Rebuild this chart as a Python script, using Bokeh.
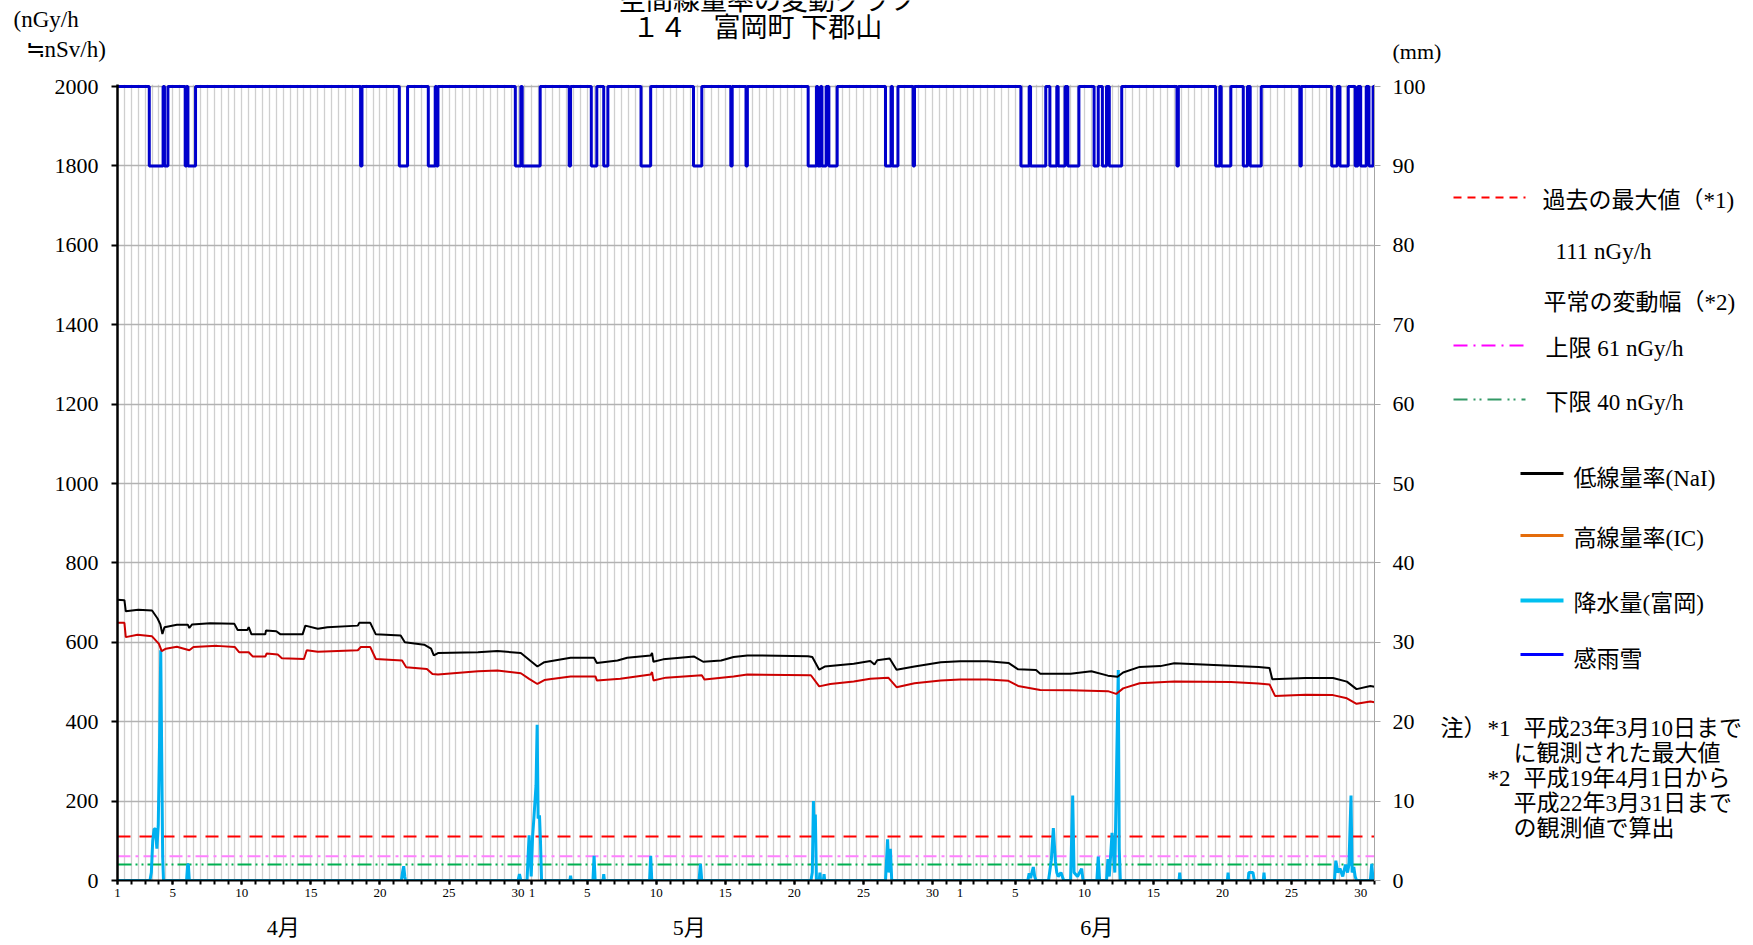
from bokeh.plotting import figure
from bokeh.layouts import column, row
from bokeh.models import Range1d, LinearAxis, FixedTicker, Span
from bokeh.core.properties import value
from bokeh.embed import file_html
from bokeh.resources import INLINE

# ---------------- data ----------------
# x = days since 1 April 00:00
nai_day = [0.0, 0.5, 0.6, 1.5, 2.5, 2.9, 3.1, 3.25, 3.4, 4.3, 5.1, 5.2, 5.4, 6.7, 8.45, 8.7, 9.4, 9.5, 9.7,
           10.7, 10.75, 11.5, 11.8, 13.4, 13.6, 14.5, 15.2, 17.4, 17.5, 18.3, 18.7, 20.5, 20.8, 22.2, 22.7,
           22.9, 23.2, 26.1, 27.5, 29.2, 29.8, 30.4, 30.9, 32.8, 34.5, 34.7, 36.2, 36.9, 38.6, 38.7, 38.8,
           39.5, 41.75, 42.4, 43.7, 44.6, 45.6, 50.0, 50.3, 50.8, 51.2, 53.3, 54.5, 54.8, 55.0, 55.9, 56.4,
           57.7, 59.6, 61.0, 63.0, 64.5, 65.2, 66.5, 66.8, 69.0, 70.5, 71.7, 72.4, 72.8, 74.0, 75.5, 76.5,
           80.6, 82.6, 83.4, 83.6, 86.0, 88.0, 89.0, 89.7, 90.7, 91.0]
nai_val = [707, 706, 678, 682, 680, 660, 645, 621, 638, 644, 644, 636, 645, 648, 647, 631, 631, 638, 620,
           620, 630, 628, 620, 620, 642, 634, 638, 642, 649, 649, 620, 617, 600, 594, 584,
           567, 573, 575, 578, 573, 556, 539, 550, 561, 561, 548, 554, 561, 567, 573, 551,
           557, 564, 551, 554, 563, 567, 565, 563, 531, 539, 546, 553, 544, 555, 559, 531,
           539, 550, 552, 552, 548, 532, 530, 521, 521, 527, 516, 513, 524, 538, 540, 547,
           541, 538, 535, 507, 510, 510, 501, 482, 490, 488]

ic_day = [0.0, 0.5, 0.6, 1.45, 2.5, 3.0, 3.2, 3.5, 4.3, 5.2, 5.5, 7.2, 8.5, 8.8, 9.5, 9.8, 10.7, 10.8, 11.6,
          11.9, 13.5, 13.7, 14.5, 17.4, 17.6, 18.3, 18.7, 20.6, 20.9, 22.4, 22.8, 23.2, 26.1, 27.5, 29.2,
          29.8, 30.4, 30.9, 32.8, 34.6, 34.7, 36.4, 38.6, 38.7, 38.8, 39.7, 42.3, 42.5, 44.6, 45.6, 50.2,
          50.8, 51.6, 53.3, 54.5, 55.8, 56.4, 57.7, 59.6, 61.0, 63.0, 64.5, 65.2, 66.8, 69.0, 71.7, 72.3,
          72.8, 74.0, 76.5, 80.6, 82.6, 83.4, 83.8, 86.0, 88.0, 89.0, 89.7, 90.7, 91.0]
ic_val = [649, 649, 613, 619, 615, 596, 578, 584, 589, 580, 588, 591, 588, 575, 575, 564, 564, 572, 569,
          560, 558, 580, 576, 580, 588, 588, 558, 554, 537, 533, 520, 519, 527, 529, 522,
          508, 495, 505, 514, 514, 504, 508, 519, 525, 504, 511, 517, 506, 514, 519, 517,
          489, 495, 501, 508, 511, 487, 497, 504, 506, 506, 503, 490, 480, 479, 477, 470,
          484, 497, 501, 500, 496, 494, 465, 468, 467, 459, 445, 451, 449]

# precipitation (mm), (day, mm) pairs
rain_pts = [(0.0, 0),
            (2.35, 0), (2.45, 1), (2.55, 5), (2.65, 6.5), (2.75, 6.5), (2.85, 4), (2.95, 7), (3.05, 18),
            (3.13, 29), (3.2, 16), (3.27, 3), (3.33, 0),
            (5.0, 0), (5.08, 2), (5.13, 2), (5.2, 0),
            (20.55, 0), (20.65, 1.2), (20.72, 1.8), (20.8, 0.5), (20.85, 0),
            (29.0, 0), (29.1, 0.8), (29.2, 0),
            (29.65, 0), (29.75, 4), (29.8, 5.7), (29.88, 3), (29.95, 0.5), (30.05, 5.5), (30.15, 8),
            (30.3, 12), (30.38, 19.6), (30.45, 7.8), (30.55, 8.2), (30.62, 5), (30.7, 0),
            (32.75, 0), (32.8, 0.6), (32.85, 0),
            (34.42, 0), (34.5, 3.1), (34.58, 0),
            (35.15, 0), (35.2, 0.8), (35.25, 0),
            (38.52, 0), (38.6, 3.1), (38.68, 0),
            (42.1, 0), (42.2, 2.1), (42.3, 0),
            (50.2, 0), (50.3, 1), (50.38, 10), (50.45, 5), (50.52, 8.3), (50.6, 0),
            (50.8, 0), (50.85, 1), (50.9, 0),
            (51.1, 0), (51.15, 0.8), (51.2, 0),
            (55.6, 0), (55.75, 5.2), (55.85, 1), (55.95, 4), (56.05, 0),
            (65.9, 0), (66.0, 0.9), (66.1, 0.3), (66.3, 1.7), (66.4, 0.5), (66.5, 0),
            (67.4, 0), (67.6, 2.5), (67.75, 6.6), (67.9, 2.4), (68.0, 1), (68.1, 0.5), (68.3, 1), (68.5, 0),
            (69.0, 0), (69.15, 10.7), (69.25, 1), (69.5, 0.5), (69.8, 1.5), (69.9, 0),
            (70.9, 0), (71.0, 3), (71.1, 0),
            (71.6, 0), (71.7, 2.7), (71.8, 0.5), (72.0, 6), (72.2, 1), (72.45, 26.5), (72.52, 4), (72.6, 0),
            (76.85, 0), (76.9, 1), (76.95, 0),
            (80.35, 0), (80.4, 1), (80.45, 0),
            (81.85, 0), (81.9, 1), (82.2, 1), (82.3, 0),
            (82.95, 0), (83.0, 1), (83.05, 0),
            (88.1, 0), (88.2, 2.5), (88.35, 1), (88.5, 1.5), (88.7, 0.5), (88.9, 2), (89.05, 1),
            (89.15, 2), (89.3, 10.7), (89.38, 1), (89.5, 1.7), (89.6, 0.5), (89.7, 0),
            (90.7, 0), (90.8, 2.1), (90.9, 0), (91.0, 0)]
rain_day = [d for d, _ in rain_pts]
rain_mm = [m for _, m in rain_pts]

# rain / snow sensor: periods with detection (days since 1 April)
sensor_start = [2.3, 3.4, 4.9, 5.1, 17.6, 20.4, 22.5, 23.1, 28.8, 29.3, 32.7, 34.3, 35.2, 37.9, 41.7,
                44.4, 45.5, 50.0, 50.7, 51.0, 51.5, 55.6, 56.1, 57.6, 65.4, 66.1, 67.5, 68.1, 68.8,
                70.7, 71.3, 71.8, 76.7, 79.5, 79.9, 81.5, 82.0, 85.6, 87.9, 88.5, 89.6, 90.0, 90.6]
sensor_end = [3.3, 3.65, 5.0, 5.65, 17.7, 21.0, 23.0, 23.2, 29.2, 30.6, 32.8, 34.7, 35.5, 38.6, 42.3,
              44.5, 45.6, 50.6, 50.9, 51.3, 52.1, 56.0, 56.5, 57.7, 66.0, 67.2, 68.0, 68.6, 69.6,
              71.0, 71.6, 72.7, 76.8, 79.8, 80.6, 81.8, 82.8, 85.7, 88.3, 89.1, 89.8, 90.4, 90.9]
sensor_on, sensor_off = 90, 100

past_max = 111
normal_upper = 61
normal_lower = 40

months = ["4月", "5月", "6月"]
month_start = [0, 30, 61]
month_days = [30, 31, 30]
month_label_day = [12.0, 41.4, 70.9]
day_labels = [1, 5, 10, 15, 20, 25, 30]

# ---------------- layout constants (pixels) ----------------
TOTAL_W = 1750
HEAD_H = 68
FL, FW = 117, 1257
BT, FH, BB = 16, 796, 62
BR = 58
LEG_X0 = FL + FW + BR
MAIN_H = BT + FH + BB
Y_TOP = 2000 * FH / 794.0
FONT = "'Liberation Serif', 'Noto Sans CJK JP', serif"

# ---------------- main chart ----------------
p = figure(frame_width=FW, frame_height=FH, min_border_left=FL, min_border_top=BT,
           min_border_right=BR, min_border_bottom=BB,
           x_range=Range1d(0, 91), y_range=Range1d(0, Y_TOP),
           output_backend="svg", toolbar_location=None)
p.extra_y_ranges = {"mm": Range1d(0, Y_TOP / 20.0)}
p.outline_line_color = None

major = []
overrides = {}
for ms, nd in zip(month_start, month_days):
    for d in day_labels:
        if d <= nd:
            major.append(ms + d - 1)
            overrides[ms + d - 1] = str(d)
p.xaxis.ticker = FixedTicker(ticks=major, minor_ticks=list(range(0, 92)))
p.xaxis.major_label_overrides = overrides
p.xaxis.major_label_text_font = FONT
p.xaxis.major_label_text_font_size = "13px"
p.xaxis.major_label_text_color = "black"
p.xaxis.major_label_standoff = 4
p.xaxis.axis_line_color = "black"
p.xaxis.axis_line_width = 2
p.xaxis.major_tick_in = 0
p.xaxis.major_tick_out = 4
p.xaxis.minor_tick_in = 0
p.xaxis.minor_tick_out = 4
p.xaxis.major_tick_line_width = 2
p.xaxis.minor_tick_line_width = 2
p.xaxis.major_tick_line_color = "black"
p.xaxis.minor_tick_line_color = "black"

month_axis = LinearAxis(ticker=FixedTicker(ticks=month_label_day),
                        major_label_overrides={d: m for d, m in zip(month_label_day, months)})
month_axis.axis_line_color = None
month_axis.major_tick_line_color = None
month_axis.minor_tick_line_color = None
month_axis.major_tick_out = 0
month_axis.major_tick_in = 0
month_axis.major_label_standoff = 15
month_axis.major_label_text_font = FONT
month_axis.major_label_text_font_size = "22px"
month_axis.major_label_text_color = "black"
p.add_layout(month_axis, "below")

p.xgrid.ticker = FixedTicker(ticks=[i * 0.5 for i in range(0, 183)])
p.xgrid.grid_line_color = "#CFCFCF"
p.xgrid.grid_line_width = 1.3

p.yaxis.ticker = FixedTicker(ticks=list(range(0, 2001, 200)))
p.yaxis.major_label_text_font = FONT
p.yaxis.major_label_text_font_size = "22px"
p.yaxis.major_label_text_color = "black"
p.yaxis.major_label_standoff = 13
p.yaxis.axis_line_color = "black"
p.yaxis.axis_line_width = 2.5
p.yaxis.major_tick_in = 0
p.yaxis.major_tick_out = 6
p.yaxis.major_tick_line_width = 2
p.yaxis.minor_tick_line_color = None
p.ygrid.ticker = FixedTicker(ticks=list(range(0, 2001, 200)))
p.ygrid.grid_line_color = "#B2B2B2"
p.ygrid.grid_line_width = 1.3

ax2 = LinearAxis(y_range_name="mm", ticker=FixedTicker(ticks=list(range(0, 101, 10))))
ax2.major_label_text_font = FONT
ax2.major_label_text_font_size = "22px"
ax2.major_label_text_color = "black"
ax2.major_label_standoff = 12
ax2.axis_line_color = "#A6A6A6"
ax2.axis_line_width = 1
ax2.major_tick_in = 0
ax2.major_tick_out = 6
ax2.major_tick_line_color = "#A6A6A6"
ax2.minor_tick_line_color = None
p.add_layout(ax2, "right")

p.add_layout(Span(location=past_max, dimension="width", line_color="#FF0000", line_width=2,
                  line_dash="13 9", level="underlay"))
p.add_layout(Span(location=normal_upper, dimension="width", line_color="#FF80FF", line_width=2,
                  line_dash="13 5 3 5", level="underlay"))
p.add_layout(Span(location=normal_lower, dimension="width", line_color="#00B050", line_width=2,
                  line_dash="14 4 2 4 2 4", level="underlay"))

p.line(rain_day, rain_mm, y_range_name="mm", line_color="#00B0F0", line_width=3)
p.line(ic_day, ic_val, line_color="#CC0000", line_width=2)
p.line(nai_day, nai_val, line_color="#000000", line_width=2)

sx_ = [0.0]
sy_ = [sensor_off]
for s, e in zip(sensor_start, sensor_end):
    sx_ += [s, s, e, e]
    sy_ += [sensor_off, sensor_on, sensor_on, sensor_off]
sx_.append(91.0)
sy_.append(sensor_off)
p.line(sx_, sy_, y_range_name="mm", line_color="#0000CC", line_width=3)


# ---------------- helper panels (pixel coordinates, y downwards) ----------------
def panel(x0, x1, y0, y1, top=0, bottom=0):
    f = figure(width=x1 - x0, height=y1 - y0 + top + bottom,
               x_range=Range1d(x0, x1), y_range=Range1d(y1, y0),
               x_axis_type=None, y_axis_type=None, min_border=0,
               min_border_top=top, min_border_bottom=bottom,
               output_backend="svg", toolbar_location=None)
    f.outline_line_color = None
    f.grid.visible = False
    return f


def txt(f, X, Y, t, size=23, align="left"):
    f.text(x=[X], y=[Y], text=[t], text_font=value(FONT), text_font_size=value(f"{size}px"),
           text_color="black", text_align=align, text_baseline="middle")


def swatch(f, X0, X1, Y, color, dash="solid", width=2):
    f.segment(x0=[X0], y0=[Y], x1=[X1], y1=[Y], line_color=color, line_width=width, line_dash=dash)


head = panel(0, TOTAL_W, 0, HEAD_H)
txt(head, 767, 0, "空間線量率の変動グラフ", 27, "center")
txt(head, 632, 27, "１４　富岡町 下郡山", 27, "left")
txt(head, 13, 19, "(nGy/h", 23)
txt(head, 25, 49, "≒nSv/h)", 23)
txt(head, 1392, 51, "(mm)", 22)

# legend panel: its frame matches the main frame (y from HEAD_H+BT to HEAD_H+BT+FH)
leg = panel(LEG_X0, TOTAL_W, HEAD_H + BT, HEAD_H + BT + FH, top=BT, bottom=BB)
swatch(leg, 1453, 1525, 197, "#FF0000", "8 6")
txt(leg, 1542, 200, "過去の最大値（*1)")
txt(leg, 1555, 251, f"{past_max} nGy/h")
txt(leg, 1543, 302, "平常の変動幅（*2)")
swatch(leg, 1453, 1525, 345, "#FF00FF", "14 6 2 6")
txt(leg, 1545, 348, f"上限 {normal_upper} nGy/h")
swatch(leg, 1453, 1525, 399, "#339966", "14 6 2 4 2 6")
txt(leg, 1545, 402, f"下限 {normal_lower} nGy/h")

swatch(leg, 1520, 1563, 473, "#000000", width=3)
txt(leg, 1573, 478, "低線量率(NaI)")
swatch(leg, 1520, 1563, 535, "#E46C0A", width=3)
txt(leg, 1573, 538, "高線量率(IC)")
swatch(leg, 1520, 1563, 600, "#00C0F0", width=4)
txt(leg, 1573, 603, "降水量(富岡)")
swatch(leg, 1520, 1563, 654, "#0000FF", width=3)
txt(leg, 1573, 659, "感雨雪")

txt(leg, 1440, 728, "注）")
txt(leg, 1487, 728, "*1")
txt(leg, 1523, 728, "平成23年3月10日まで")
txt(leg, 1513, 753, "に観測された最大値")
txt(leg, 1487, 778, "*2")
txt(leg, 1523, 778, "平成19年4月1日から")
txt(leg, 1513, 803, "平成22年3月31日まで")
txt(leg, 1513, 828, "の観測値で算出")

layout = column(head, row(p, leg, spacing=0), spacing=0)
open("out.html", "w").write(file_html(layout, INLINE))
